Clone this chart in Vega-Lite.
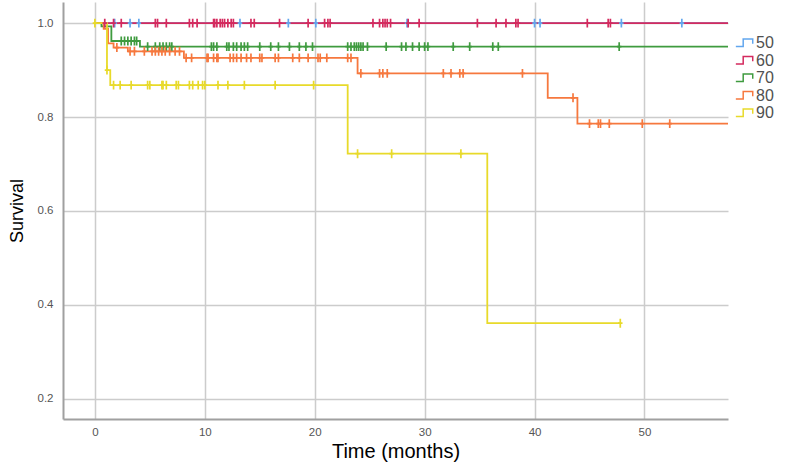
{
  "$schema": "https://vega.github.io/schema/vega-lite/v6.json",
  "width": 665,
  "height": 417,
  "autosize": {"type": "none"},
  "padding": {"left": 63, "top": 2, "right": 59, "bottom": 48},
  "background": "white",
  "config": {"view": {"stroke": null}, "font": "Liberation Sans"},
  "datasets": {
    "curves": [
      {"g": "50", "t": 0, "s": 1}, {"g": "50", "t": 57.6, "s": 1},
      {"g": "60", "t": 0, "s": 1}, {"g": "60", "t": 57.6, "s": 1},
      {"g": "70", "t": 0, "s": 1}, {"g": "70", "t": 0.6, "s": 0.993}, {"g": "70", "t": 1.5, "s": 0.962}, {"g": "70", "t": 4.1, "s": 0.95}, {"g": "70", "t": 57.6, "s": 0.95},
      {"g": "80", "t": 0, "s": 1}, {"g": "80", "t": 0.8, "s": 0.988}, {"g": "80", "t": 1.2, "s": 0.957}, {"g": "80", "t": 1.7, "s": 0.948}, {"g": "80", "t": 3.0, "s": 0.94}, {"g": "80", "t": 8.1, "s": 0.926}, {"g": "80", "t": 23.9, "s": 0.893}, {"g": "80", "t": 41.2, "s": 0.841}, {"g": "80", "t": 43.9, "s": 0.786}, {"g": "80", "t": 57.6, "s": 0.786},
      {"g": "90", "t": 0, "s": 1}, {"g": "90", "t": 1.1, "s": 0.9}, {"g": "90", "t": 1.4, "s": 0.868}, {"g": "90", "t": 23.0, "s": 0.722}, {"g": "90", "t": 35.7, "s": 0.361}, {"g": "90", "t": 47.8, "s": 0.361}
    ],
    "censor": [
      {"g": "50", "t": 1.8, "s": 1}, {"g": "50", "t": 3.2, "s": 1}, {"g": "50", "t": 4.0, "s": 1}, {"g": "50", "t": 13.2, "s": 1}, {"g": "50", "t": 17.6, "s": 1}, {"g": "50", "t": 20.1, "s": 1}, {"g": "50", "t": 28.4, "s": 1}, {"g": "50", "t": 40.0, "s": 1}, {"g": "50", "t": 40.5, "s": 1}, {"g": "50", "t": 47.9, "s": 1}, {"g": "50", "t": 53.4, "s": 1},
      {"g": "60", "t": 0.9, "s": 1}, {"g": "60", "t": 1.7, "s": 1}, {"g": "60", "t": 2.4, "s": 1}, {"g": "60", "t": 5.5, "s": 1}, {"g": "60", "t": 5.7, "s": 1}, {"g": "60", "t": 6.5, "s": 1}, {"g": "60", "t": 8.6, "s": 1}, {"g": "60", "t": 8.9, "s": 1}, {"g": "60", "t": 9.3, "s": 1}, {"g": "60", "t": 10.8, "s": 1}, {"g": "60", "t": 10.9, "s": 1}, {"g": "60", "t": 11.1, "s": 1}, {"g": "60", "t": 11.4, "s": 1}, {"g": "60", "t": 11.6, "s": 1}, {"g": "60", "t": 11.8, "s": 1}, {"g": "60", "t": 12.1, "s": 1}, {"g": "60", "t": 12.4, "s": 1}, {"g": "60", "t": 12.6, "s": 1}, {"g": "60", "t": 14.2, "s": 1}, {"g": "60", "t": 14.5, "s": 1}, {"g": "60", "t": 16.8, "s": 1}, {"g": "60", "t": 19.4, "s": 1}, {"g": "60", "t": 20.9, "s": 1}, {"g": "60", "t": 21.2, "s": 1}, {"g": "60", "t": 21.4, "s": 1}, {"g": "60", "t": 25.3, "s": 1}, {"g": "60", "t": 25.9, "s": 1}, {"g": "60", "t": 26.2, "s": 1}, {"g": "60", "t": 26.4, "s": 1}, {"g": "60", "t": 26.6, "s": 1}, {"g": "60", "t": 26.9, "s": 1}, {"g": "60", "t": 28.5, "s": 1}, {"g": "60", "t": 29.5, "s": 1}, {"g": "60", "t": 34.8, "s": 1}, {"g": "60", "t": 36.5, "s": 1}, {"g": "60", "t": 37.4, "s": 1}, {"g": "60", "t": 38.3, "s": 1}, {"g": "60", "t": 38.5, "s": 1}, {"g": "60", "t": 44.8, "s": 1}, {"g": "60", "t": 46.7, "s": 1}, {"g": "60", "t": 46.9, "s": 1},
      {"g": "70", "t": 2.4, "s": 0.962}, {"g": "70", "t": 2.7, "s": 0.962}, {"g": "70", "t": 3.0, "s": 0.962}, {"g": "70", "t": 3.3, "s": 0.962}, {"g": "70", "t": 3.6, "s": 0.962}, {"g": "70", "t": 3.8, "s": 0.962},
      {"g": "70", "t": 4.8, "s": 0.95}, {"g": "70", "t": 5.5, "s": 0.95}, {"g": "70", "t": 5.9, "s": 0.95}, {"g": "70", "t": 6.2, "s": 0.95}, {"g": "70", "t": 6.5, "s": 0.95}, {"g": "70", "t": 6.8, "s": 0.95}, {"g": "70", "t": 7.0, "s": 0.95}, {"g": "70", "t": 10.6, "s": 0.95}, {"g": "70", "t": 10.8, "s": 0.95}, {"g": "70", "t": 11.1, "s": 0.95}, {"g": "70", "t": 12.0, "s": 0.95}, {"g": "70", "t": 12.2, "s": 0.95}, {"g": "70", "t": 12.6, "s": 0.95}, {"g": "70", "t": 12.9, "s": 0.95}, {"g": "70", "t": 13.3, "s": 0.95}, {"g": "70", "t": 13.6, "s": 0.95}, {"g": "70", "t": 13.9, "s": 0.95}, {"g": "70", "t": 15.0, "s": 0.95}, {"g": "70", "t": 16.0, "s": 0.95}, {"g": "70", "t": 16.7, "s": 0.95}, {"g": "70", "t": 17.7, "s": 0.95}, {"g": "70", "t": 18.6, "s": 0.95}, {"g": "70", "t": 19.2, "s": 0.95}, {"g": "70", "t": 19.8, "s": 0.95}, {"g": "70", "t": 23.0, "s": 0.95}, {"g": "70", "t": 23.3, "s": 0.95}, {"g": "70", "t": 23.6, "s": 0.95}, {"g": "70", "t": 23.8, "s": 0.95}, {"g": "70", "t": 24.0, "s": 0.95}, {"g": "70", "t": 24.2, "s": 0.95}, {"g": "70", "t": 24.4, "s": 0.95}, {"g": "70", "t": 24.8, "s": 0.95}, {"g": "70", "t": 26.5, "s": 0.95}, {"g": "70", "t": 27.9, "s": 0.95}, {"g": "70", "t": 28.3, "s": 0.95}, {"g": "70", "t": 28.9, "s": 0.95}, {"g": "70", "t": 29.5, "s": 0.95}, {"g": "70", "t": 30.0, "s": 0.95}, {"g": "70", "t": 30.3, "s": 0.95}, {"g": "70", "t": 32.6, "s": 0.95}, {"g": "70", "t": 34.1, "s": 0.95}, {"g": "70", "t": 36.2, "s": 0.95}, {"g": "70", "t": 36.7, "s": 0.95}, {"g": "70", "t": 47.7, "s": 0.95},
      {"g": "80", "t": 2.0, "s": 0.948}, {"g": "80", "t": 3.2, "s": 0.94}, {"g": "80", "t": 3.6, "s": 0.94}, {"g": "80", "t": 4.5, "s": 0.94}, {"g": "80", "t": 5.2, "s": 0.94}, {"g": "80", "t": 5.5, "s": 0.94}, {"g": "80", "t": 5.8, "s": 0.94}, {"g": "80", "t": 6.1, "s": 0.94}, {"g": "80", "t": 6.4, "s": 0.94}, {"g": "80", "t": 6.8, "s": 0.94}, {"g": "80", "t": 7.3, "s": 0.94}, {"g": "80", "t": 7.7, "s": 0.94},
      {"g": "80", "t": 8.3, "s": 0.926}, {"g": "80", "t": 8.8, "s": 0.926}, {"g": "80", "t": 10.2, "s": 0.926}, {"g": "80", "t": 10.3, "s": 0.926}, {"g": "80", "t": 10.8, "s": 0.926}, {"g": "80", "t": 11.1, "s": 0.926}, {"g": "80", "t": 11.2, "s": 0.926}, {"g": "80", "t": 12.3, "s": 0.926}, {"g": "80", "t": 12.6, "s": 0.926}, {"g": "80", "t": 12.9, "s": 0.926}, {"g": "80", "t": 13.3, "s": 0.926}, {"g": "80", "t": 13.8, "s": 0.926}, {"g": "80", "t": 14.2, "s": 0.926}, {"g": "80", "t": 15.0, "s": 0.926}, {"g": "80", "t": 15.2, "s": 0.926}, {"g": "80", "t": 16.4, "s": 0.926}, {"g": "80", "t": 16.7, "s": 0.926}, {"g": "80", "t": 18.0, "s": 0.926}, {"g": "80", "t": 18.6, "s": 0.926}, {"g": "80", "t": 19.4, "s": 0.926}, {"g": "80", "t": 20.3, "s": 0.926}, {"g": "80", "t": 20.5, "s": 0.926}, {"g": "80", "t": 21.1, "s": 0.926}, {"g": "80", "t": 23.0, "s": 0.926}, {"g": "80", "t": 23.3, "s": 0.926},
      {"g": "80", "t": 24.2, "s": 0.893}, {"g": "80", "t": 25.9, "s": 0.893}, {"g": "80", "t": 26.2, "s": 0.893}, {"g": "80", "t": 26.6, "s": 0.893}, {"g": "80", "t": 31.7, "s": 0.893}, {"g": "80", "t": 32.4, "s": 0.893}, {"g": "80", "t": 33.2, "s": 0.893}, {"g": "80", "t": 33.5, "s": 0.893}, {"g": "80", "t": 38.9, "s": 0.893},
      {"g": "80", "t": 43.5, "s": 0.841},
      {"g": "80", "t": 45.0, "s": 0.786}, {"g": "80", "t": 45.8, "s": 0.786}, {"g": "80", "t": 46.0, "s": 0.786}, {"g": "80", "t": 46.8, "s": 0.786}, {"g": "80", "t": 49.8, "s": 0.786}, {"g": "80", "t": 52.3, "s": 0.786},
      {"g": "90", "t": 0, "s": 1}, {"g": "90", "t": 1.1, "s": 0.9},
      {"g": "90", "t": 1.7, "s": 0.868}, {"g": "90", "t": 2.3, "s": 0.868}, {"g": "90", "t": 3.3, "s": 0.868}, {"g": "90", "t": 4.8, "s": 0.868}, {"g": "90", "t": 5.0, "s": 0.868}, {"g": "90", "t": 6.1, "s": 0.868}, {"g": "90", "t": 6.2, "s": 0.868}, {"g": "90", "t": 6.5, "s": 0.868}, {"g": "90", "t": 7.4, "s": 0.868}, {"g": "90", "t": 7.6, "s": 0.868}, {"g": "90", "t": 8.6, "s": 0.868}, {"g": "90", "t": 8.9, "s": 0.868}, {"g": "90", "t": 9.4, "s": 0.868}, {"g": "90", "t": 9.8, "s": 0.868}, {"g": "90", "t": 10.0, "s": 0.868}, {"g": "90", "t": 11.2, "s": 0.868}, {"g": "90", "t": 12.1, "s": 0.868}, {"g": "90", "t": 13.6, "s": 0.868}, {"g": "90", "t": 16.4, "s": 0.868}, {"g": "90", "t": 19.9, "s": 0.868},
      {"g": "90", "t": 23.9, "s": 0.722}, {"g": "90", "t": 27.0, "s": 0.722}, {"g": "90", "t": 33.3, "s": 0.722},
      {"g": "90", "t": 47.8, "s": 0.361}
    ]
  },
  "layer": [
    {
      "data": {"name": "curves"},
      "mark": {"type": "line", "interpolate": "step-after", "strokeWidth": 1.8, "clip": true},
      "encoding": {
        "x": {
          "field": "t", "type": "quantitative",
          "scale": {"domain": [-2.9, 57.6], "nice": false, "zero": false},
          "axis": {
            "values": [0, 10, 20, 30, 40, 50], "grid": true, "gridColor": "#cccccc", "gridWidth": 1.5,
            "domainColor": "#a0a0a0", "domainWidth": 2, "ticks": false,
            "labelFontSize": 11.5, "labelColor": "#555555", "labelPadding": 7,
            "title": "Time (months)", "titleFontSize": 20, "titleFontWeight": "normal", "titleColor": "#000000", "titlePadding": 4
          }
        },
        "y": {
          "field": "s", "type": "quantitative",
          "scale": {"domain": [0.157, 1.045], "nice": false, "zero": false},
          "axis": {
            "values": [0.2, 0.4, 0.6, 0.8, 1.0], "format": ".1f", "grid": true, "gridColor": "#cccccc", "gridWidth": 1.5,
            "domainColor": "#a0a0a0", "domainWidth": 2, "ticks": false,
            "labelFontSize": 11.5, "labelColor": "#555555", "labelPadding": 10,
            "title": "Survival", "titleFontSize": 18, "titleFontWeight": "normal", "titleColor": "#000000", "titlePadding": 11
          }
        },
        "color": {
          "field": "g", "type": "nominal",
          "scale": {"domain": ["50", "60", "70", "80", "90"], "range": ["#62a6ee", "#d42a5e", "#3f9b3f", "#f6783e", "#e8da2a"]},
          "legend": {
            "orient": "none", "legendX": 672, "legendY": 33, "title": null,
            "symbolType": "M-1,0.4H-0.15V-0.45H0.95V0.1", "symbolSize": 300, "symbolStrokeWidth": 1.5, "symbolFillColor": "transparent",
            "labelFontSize": 16, "labelColor": "#505050", "labelOffset": 2, "rowPadding": 1.5, "clipHeight": 16
          }
        }
      }
    },
    {
      "data": {"name": "censor"},
      "mark": {"type": "point", "shape": "M0,-1V1M-0.5,0H0.5", "filled": false, "size": 80, "strokeWidth": 1.7, "opacity": 1, "clip": true},
      "encoding": {
        "x": {"field": "t", "type": "quantitative"},
        "y": {"field": "s", "type": "quantitative"},
        "color": {"field": "g", "type": "nominal"}
      }
    }
  ]
}
